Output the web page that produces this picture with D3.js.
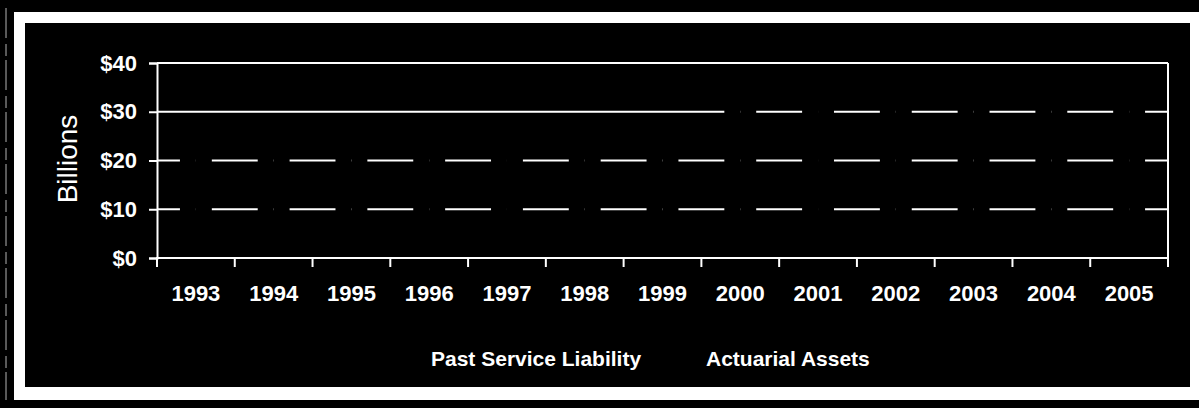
<!DOCTYPE html>
<html>
<head>
<meta charset="utf-8">
<script src="https://cdn.jsdelivr.net/npm/d3@7/dist/d3.min.js"></script>
<style>
  html, body { margin: 0; padding: 0; background: #000; }
  svg { display: block; }
  text { font-family: Arial, "Liberation Sans", sans-serif; fill: #fff; }
</style>
</head>
<body>
<svg id="chart" width="1199" height="408"></svg>
<script>
const years = ["1993","1994","1995","1996","1997","1998","1999","2000","2001","2002","2003","2004","2005"];
const seriesNames = ["Past Service Liability", "Actuarial Assets"];
const liability = [24, 25, 26, 26.5, 27, 28, 29, 31, 32, 33, 34, 35, 36];
const assets    = [21, 22, 23, 24, 25.5, 27, 28.5, 31.5, 31, 30.5, 31, 32, 33];
const yTicks = [0, 10, 20, 30, 40];
const yTickLabels = ["$0", "$10", "$20", "$30", "$40"];

(function () {
const svg = d3.select("#chart");
const W = 1199, H = 408;

// background and scanned frame
svg.append("rect").attr("x", 0).attr("y", 0).attr("width", W).attr("height", H).attr("fill", "#000");
svg.append("rect").attr("x", 14).attr("y", 12).attr("width", W - 14).attr("height", 388).attr("fill", "#fff");
svg.append("rect").attr("x", 25).attr("y", 23).attr("width", 1190 - 25).attr("height", 387 - 23).attr("fill", "#000");
svg.append("line").attr("x1", 6).attr("x2", 6).attr("y1", 8).attr("y2", 400)
  .attr("stroke", "#fff").attr("stroke-width", 1).attr("stroke-dasharray", "30,6,12,4").attr("opacity", 0.7);

const pLeft = 157, pRight = 1168, pTop = 63, pBottom = 258;

const x = d3.scaleBand().domain(years).range([pLeft, pRight]).paddingInner(0.59).paddingOuter(0.295);
const x1 = d3.scaleBand().domain(seriesNames).range([0, x.bandwidth()]).padding(0);
const y = d3.scaleLinear().domain([0, 40]).range([pBottom, pTop]);

// gridlines
svg.append("g").selectAll("line").data(yTicks.filter(v => v > 0 && v < 40)).join("line")
  .attr("x1", pLeft).attr("x2", pRight)
  .attr("y1", d => y(d)).attr("y2", d => y(d))
  .attr("stroke", "#fff").attr("stroke-width", 2);

// bars (black, hiding the gridlines)
const series = [liability, assets];
series.forEach((vals, si) => {
  svg.append("g").selectAll("rect").data(years).join("rect")
    .attr("x", d => x(d) + x1(seriesNames[si]))
    .attr("y", (d, i) => y(vals[i]))
    .attr("width", x1.bandwidth())
    .attr("height", (d, i) => y(0) - y(vals[i]))
    .attr("fill", "#000");
});

// plot border top and right
svg.append("line").attr("x1", pLeft).attr("x2", pRight).attr("y1", y(40)).attr("y2", y(40))
  .attr("stroke", "#fff").attr("stroke-width", 2);
svg.append("line").attr("x1", pRight).attr("x2", pRight).attr("y1", y(40)).attr("y2", y(0))
  .attr("stroke", "#fff").attr("stroke-width", 2);

// y axis
const yAxis = svg.append("g").attr("transform", `translate(${pLeft},0)`)
  .call(d3.axisLeft(y).tickValues(yTicks).tickFormat((d, i) => yTickLabels[i]).tickSize(8).tickPadding(12));
yAxis.select(".domain").attr("stroke", "#fff").attr("stroke-width", 2);
yAxis.selectAll(".tick line").attr("stroke", "#fff").attr("stroke-width", 2);
yAxis.selectAll(".tick text").attr("fill", "#fff").style("font-size", "22px").style("font-weight", "bold")
  .style("font-family", "Arial, 'Liberation Sans', sans-serif");

// x axis: labels centered, ticks between categories
const xAxis = svg.append("g").attr("transform", `translate(0,${pBottom})`)
  .call(d3.axisBottom(x).tickSize(0).tickPadding(27));
xAxis.select(".domain").remove();
xAxis.selectAll(".tick text").attr("fill", "#fff").style("font-size", "22px").style("font-weight", "bold")
  .style("font-family", "Arial, 'Liberation Sans', sans-serif");
svg.append("line").attr("x1", pLeft - 1).attr("x2", pRight + 1).attr("y1", pBottom).attr("y2", pBottom)
  .attr("stroke", "#fff").attr("stroke-width", 2);
const half = (x.step() - x.bandwidth()) / 2;
const boundaries = years.map(d => x(d) - half).concat([x(years[years.length - 1]) + x.bandwidth() + half]);
svg.append("g").selectAll("line").data(boundaries).join("line")
  .attr("x1", d => d).attr("x2", d => d).attr("y1", pBottom).attr("y2", pBottom + 9)
  .attr("stroke", "#fff").attr("stroke-width", 2);

// y title
svg.append("text").attr("transform", "translate(67,159) rotate(-90)")
  .attr("text-anchor", "middle").attr("dominant-baseline", "central")
  .style("font-size", "28px").text("Billions");

// legend
const legendX = [431, 706];
seriesNames.forEach((name, i) => {
  svg.append("rect").attr("x", legendX[i] - 20).attr("y", 352).attr("width", 12).attr("height", 12).attr("fill", "#000");
  svg.append("text").attr("x", legendX[i]).attr("y", 366)
    .style("font-size", "21px").style("font-weight", "bold").text(name);
});
})();
</script>
</body>
</html>
